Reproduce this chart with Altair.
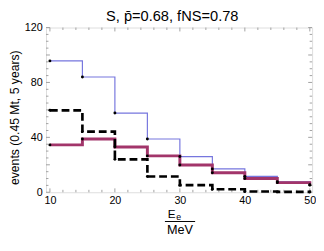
import altair as alt
import pandas as pd

# ---- data ----
energy = [10, 15, 20, 25, 30, 35, 40, 45, 50]
blue_vals = [95.7, 84.0, 57.7, 38.8, 26.0, 17.0, 11.6, 7.6, 5.2]
red_vals = [34.5, 38.8, 33.0, 26.5, 19.8, 14.2, 10.0, 7.0, 5.5]
black_vals = [59.7, 44.2, 24.0, 11.5, 5.2, 2.2, 0.6, 0.3, 0.2]

x_major = [10, 20, 30, 40, 50]
x_minor = [12, 14, 16, 18, 22, 24, 26, 28, 32, 34, 36, 38, 42, 44, 46, 48]
y_major = [0, 20, 40, 60, 80, 100, 120]
y_minor = [5, 10, 15, 25, 30, 35, 45, 50, 55, 65, 70, 75, 85, 90, 95, 105, 110, 115]

title_text = "S, p\u0304=0.68, fNS=0.78"
ytitle_text = "events (0.45 Mt, 5 years)"

W, H = 273, 169
FONT = "Liberation Sans"
FRAME = "#a0a0a0"

rows = []
for name, vals in [("blue", blue_vals), ("red", red_vals), ("black", black_vals)]:
    for e, v in zip(energy, vals):
        rows.append({"E": e, "N": v, "s": name})
df = pd.DataFrame(rows)

xs = alt.Scale(domain=[9.4, 50.35], nice=False, zero=False)
ys = alt.Scale(domain=[0, 120], nice=False, zero=False)

xax = alt.Axis(values=x_major, ticks=False, domain=False, grid=False, labelFontSize=11,
               labelPadding=3, labelColor="black", labelFont=FONT, title=None)
yax = alt.Axis(values=y_major, ticks=False, domain=False, grid=False, labelFontSize=11,
               labelPadding=4, labelColor="black", labelFont=FONT, title=None)

base = alt.Chart(df)

def step(name, color, width, dash=None):
    kw = dict(interpolate="step-after", color=color, strokeWidth=width)
    if dash:
        kw["strokeDash"] = dash
    return base.transform_filter(alt.datum.s == name).mark_line(**kw).encode(
        x=alt.X("E:Q", scale=xs, axis=xax),
        y=alt.Y("N:Q", scale=ys, axis=yax),
    )

blue_line = step("blue", "#7676de", 1.2)
red_line = step("red", "#a2356a", 3)
black_line = step("black", "black", 2.7, [8, 4])

pts = base.mark_circle(color="black", size=9, opacity=1).encode(
    x=alt.X("E:Q", scale=xs), y=alt.Y("N:Q", scale=ys)
)

xt_major = pd.DataFrame({"E": x_major})
xt_minor = pd.DataFrame({"E": x_minor})
yt_major = pd.DataFrame({"N": y_major})
yt_minor = pd.DataFrame({"N": y_minor})

def xticks(d, ln):
    b = alt.Chart(d).mark_rule(color=FRAME, strokeWidth=1).encode(
        x=alt.X("E:Q", scale=xs), y=alt.value(H), y2=alt.value(H - ln))
    t = alt.Chart(d).mark_rule(color=FRAME, strokeWidth=1).encode(
        x=alt.X("E:Q", scale=xs), y=alt.value(0), y2=alt.value(ln))
    return b + t

def yticks(d, ln):
    l = alt.Chart(d).mark_rule(color=FRAME, strokeWidth=1).encode(
        y=alt.Y("N:Q", scale=ys), x=alt.value(0), x2=alt.value(ln))
    r = alt.Chart(d).mark_rule(color=FRAME, strokeWidth=1).encode(
        y=alt.Y("N:Q", scale=ys), x=alt.value(W), x2=alt.value(W - ln))
    return l + r

ticks = xticks(xt_major, 4) + xticks(xt_minor, 2.5) + yticks(yt_major, 4) + yticks(yt_minor, 2.5)

one = pd.DataFrame({"t": [0]})
title = alt.Chart(one).mark_text(text=title_text, font=FONT, fontSize=15, align="center",
                                 baseline="alphabetic", color="black").encode(
    x=alt.value(129.5), y=alt.value(-6.5))
ytitle = alt.Chart(one).mark_text(text=ytitle_text, font=FONT, fontSize=12.5, align="center",
                                  baseline="middle", angle=270, color="black").encode(
    x=alt.value(-32), y=alt.value(92.5))
e_big = alt.Chart(one).mark_text(text="E", font=FONT, fontSize=12, align="left",
                                 baseline="alphabetic", color="black").encode(
    x=alt.value(125), y=alt.value(195))
e_sub = alt.Chart(one).mark_text(text="e", font=FONT, fontSize=9, align="left",
                                 baseline="alphabetic", color="black").encode(
    x=alt.value(133.5), y=alt.value(197.5))
frac = alt.Chart(one).mark_rule(color="black", strokeWidth=1).encode(
    x=alt.value(122), x2=alt.value(153), y=alt.value(199))
mev = alt.Chart(one).mark_text(text="MeV", font=FONT, fontSize=13, align="center",
                               baseline="alphabetic", color="black").encode(
    x=alt.value(137.5), y=alt.value(212))

chart = alt.layer(
    ticks, blue_line, red_line, black_line, pts, title, ytitle, e_big, e_sub, frac, mev
).properties(
    width=W, height=H,
    autosize=alt.AutoSizeParams(type="none"),
    padding={"left": 39, "top": 17, "right": 4, "bottom": 49},
).configure_view(stroke=FRAME, strokeWidth=1).configure(background="white")

chart.save("out.html", embed_options={"renderer": "svg", "actions": False})
